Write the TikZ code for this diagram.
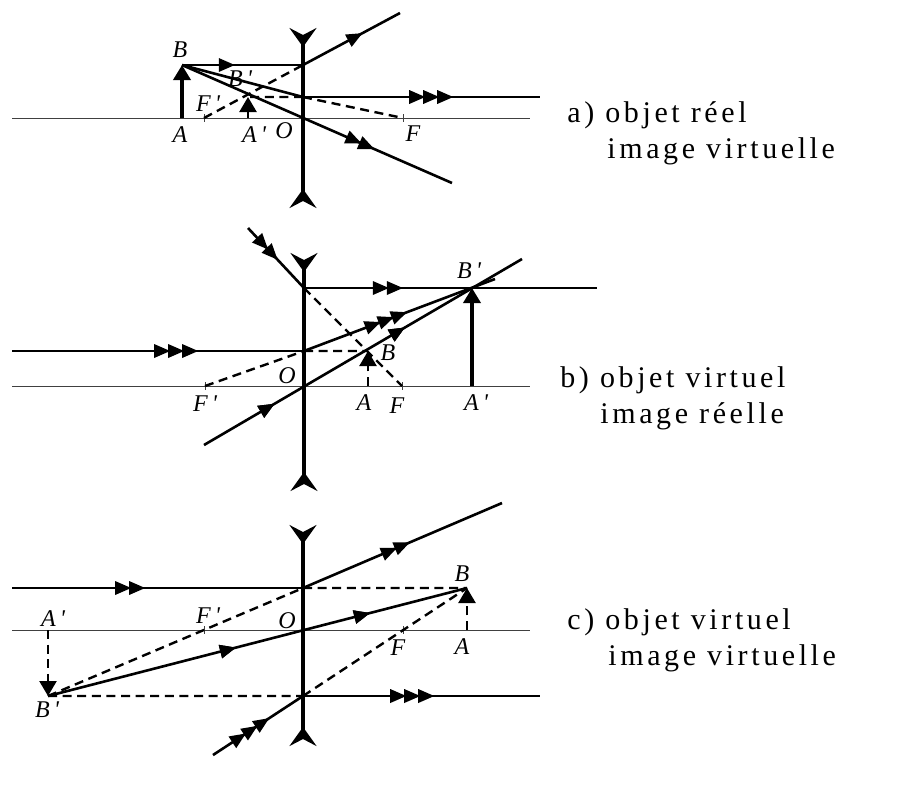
\documentclass[tikz,border=0pt]{standalone}
\usepackage{fontspec}
\setmainfont{Liberation Serif}
\usetikzlibrary{arrows.meta,decorations.markings}
\newcommand\pointe[1]{\fill (#1+4pt,0pt) -- (#1-4pt,3.5pt) -- (#1-4pt,-3.5pt) -- cycle;}
\newcommand\prim{\,\textquotesingle}

\begin{document}
\begin{tikzpicture}[x=0.5pt,y=-0.5pt,
    axe/.style={line width=0.5pt,black!75},
    lentille/.style={line width=1.8pt,{Stealth[reversed,length=9.5pt,width=13.5pt,inset=3.5pt]}-{Stealth[reversed,length=9.5pt,width=13.5pt,inset=3.5pt]}},
    rayon/.style={line width=1.3pt},
    virt/.style={line width=1.2pt,dash pattern=on 4.5pt off 2.8pt},
    objet/.style={line width=1.8pt,-{Triangle[length=7.5pt,width=8.5pt]}},
    repere/.style={font=\fontsize{12}{14}\selectfont\itshape,inner sep=1pt},
    legende/.style={font=\fontsize{15}{18}\selectfont\addfontfeature{LetterSpace=12},anchor=base west,inner sep=0pt},
    fl1/.style={postaction={decorate},decoration={markings,mark=at position #1 with {\pointe{0pt}}}},
    fl2/.style={postaction={decorate},decoration={markings,mark=at position #1 with {\pointe{0pt}\pointe{-7pt}}}},
    fl3/.style={postaction={decorate},decoration={markings,mark=at position #1 with {\pointe{0pt}\pointe{-7pt}\pointe{-14pt}}}}]
  \useasboundingbox (0,0) rectangle (909,784);

  % a) objet reel
  \coordinate (aO) at (303,118);
  \coordinate (aA) at (182,118);
  \coordinate (aB) at (182,65);
  \coordinate (aF) at (403,118);
  \coordinate (aFp) at (204,118);
  \coordinate (aAp) at (248,118);
  \coordinate (aBp) at (248,97);
  \coordinate (aI) at (303,65);
  \coordinate (aJ) at (303,97);
  \coordinate (aE1) at (400,13);
  \coordinate (aE2) at (540,97);
  \coordinate (aE3) at (452,183);
  \draw[axe] (12,118) -- (530,118);
  \draw[axe] (aF) +(0,-4) -- +(0,4) (aFp) +(0,-4) -- +(0,4);
  \draw[lentille] (303,28) -- (303,208);
  \draw[rayon,fl1=0.37] (aB) -- (aI);
  \draw[rayon,fl1=0.54] (aI) -- (aE1);
  \draw[rayon] (aB) -- (aJ);
  \draw[rayon,fl3=0.6] (aJ) -- (aE2);
  \draw[rayon,fl2=0.685] (aB) -- (aE3);
  \draw[virt] (aFp) -- (aI) (aJ) -- (aF) (aJ) -- (aBp);
  \draw[objet] (aA) -- (aB);
  \draw[objet,virt] (aAp) -- (aBp);
  \node[repere] (laB) at (180,50) {B};
  \node[repere] (laBp) at (240,79) {B\prim};
  \node[repere] (laFp) at (208,104) {F\prim};
  \node[repere] (laA) at (180,135) {A};
  \node[repere] (laAp) at (254,135) {A\prim};
  \node[repere] (laO) at (284,131) {O};
  \node[repere] (laF) at (413,134) {F};
  \node[legende] (ta1) at (567,122) {a) objet réel};
  \node[legende] (ta2) at (607,158) {image virtuelle};

  % b) objet virtuel, image reelle
  \coordinate (bO) at (304,386);
  \coordinate (bA) at (368,386);
  \coordinate (bB) at (368,351);
  \coordinate (bF) at (402,386);
  \coordinate (bFp) at (205,386);
  \coordinate (bAp) at (472,386);
  \coordinate (bBp) at (472,288);
  \coordinate (bI) at (304,288);
  \coordinate (bJ) at (304,351);
  \coordinate (bS1) at (248,228);
  \coordinate (bS2) at (12,351);
  \coordinate (bS3) at (204,445);
  \coordinate (bE1) at (597,288);
  \coordinate (bE2) at (495,279);
  \coordinate (bE3) at (522,259);
  \draw[axe] (12,386) -- (530,386);
  \draw[axe] (bF) +(0,-4) -- +(0,4) (bFp) +(0,-4) -- +(0,4);
  \draw[lentille] (304,253) -- (304,491);
  \draw[rayon,fl2=0.43] (bS1) -- (bI);
  \draw[rayon,fl2=0.31] (bI) -- (bE1);
  \draw[rayon,fl3=0.61] (bS2) -- (bJ);
  \draw[rayon,fl3=0.5] (bJ) -- (bE2);
  \draw[rayon,fl1=0.2,fl1=0.61] (bS3) -- (bE3);
  \draw[virt] (bI) -- (bF) (bFp) -- (bJ) (bJ) -- (bB);
  \draw[objet,virt] (bA) -- (bB);
  \draw[objet] (bAp) -- (bBp);
  \node[repere] (lbBp) at (469,271) {B\prim};
  \node[repere] (lbB) at (388,353) {B};
  \node[repere] (lbO) at (287,376) {O};
  \node[repere] (lbFp) at (205,404) {F\prim};
  \node[repere] (lbA) at (364,403) {A};
  \node[repere] (lbF) at (397,406) {F};
  \node[repere] (lbAp) at (476,403) {A\prim};
  \node[legende] (tb1) at (560,387) {b) objet virtuel};
  \node[legende] (tb2) at (600,423) {image réelle};

  % c) objet virtuel, image virtuelle
  \coordinate (cO) at (303,630);
  \coordinate (cA) at (467,630);
  \coordinate (cB) at (467,588);
  \coordinate (cF) at (403,630);
  \coordinate (cFp) at (204,630);
  \coordinate (cAp) at (48,630);
  \coordinate (cBp) at (48,696);
  \coordinate (cI) at (303,588);
  \coordinate (cJ) at (303,696);
  \coordinate (cS1) at (12,588);
  \coordinate (cS3) at (213,755);
  \coordinate (cE1) at (502,503);
  \coordinate (cE3) at (540,696);
  \draw[axe] (12,630) -- (530,630);
  \draw[axe] (cF) +(0,-4) -- +(0,4) (cFp) +(0,-4) -- +(0,4);
  \draw[lentille] (303,525) -- (303,746);
  \draw[rayon,fl2=0.43] (cS1) -- (cI);
  \draw[rayon,fl2=0.5] (cI) -- (cE1);
  \draw[rayon,fl1=0.43,fl1=0.75] (cBp) -- (cB);
  \draw[rayon,fl3=0.55] (cS3) -- (cJ);
  \draw[rayon,fl3=0.52] (cJ) -- (cE3);
  \draw[virt] (cBp) -- (cI) (cI) -- (cB) (cJ) -- (cB) (cBp) -- (cJ);
  \draw[objet,virt] (cA) -- (cB);
  \draw[objet,virt] (cAp) -- (cBp);
  \node[repere] (lcAp) at (53,619) {A\prim};
  \node[repere] (lcFp) at (208,616) {F\prim};
  \node[repere] (lcO) at (287,621) {O};
  \node[repere] (lcB) at (462,574) {B};
  \node[repere] (lcF) at (398,648) {F};
  \node[repere] (lcA) at (462,647) {A};
  \node[repere] (lcBp) at (47,710) {B\prim};
  \node[legende] (tc1) at (567,629) {c) objet virtuel};
  \node[legende] (tc2) at (608,665) {image virtuelle};
\end{tikzpicture}
\end{document}
